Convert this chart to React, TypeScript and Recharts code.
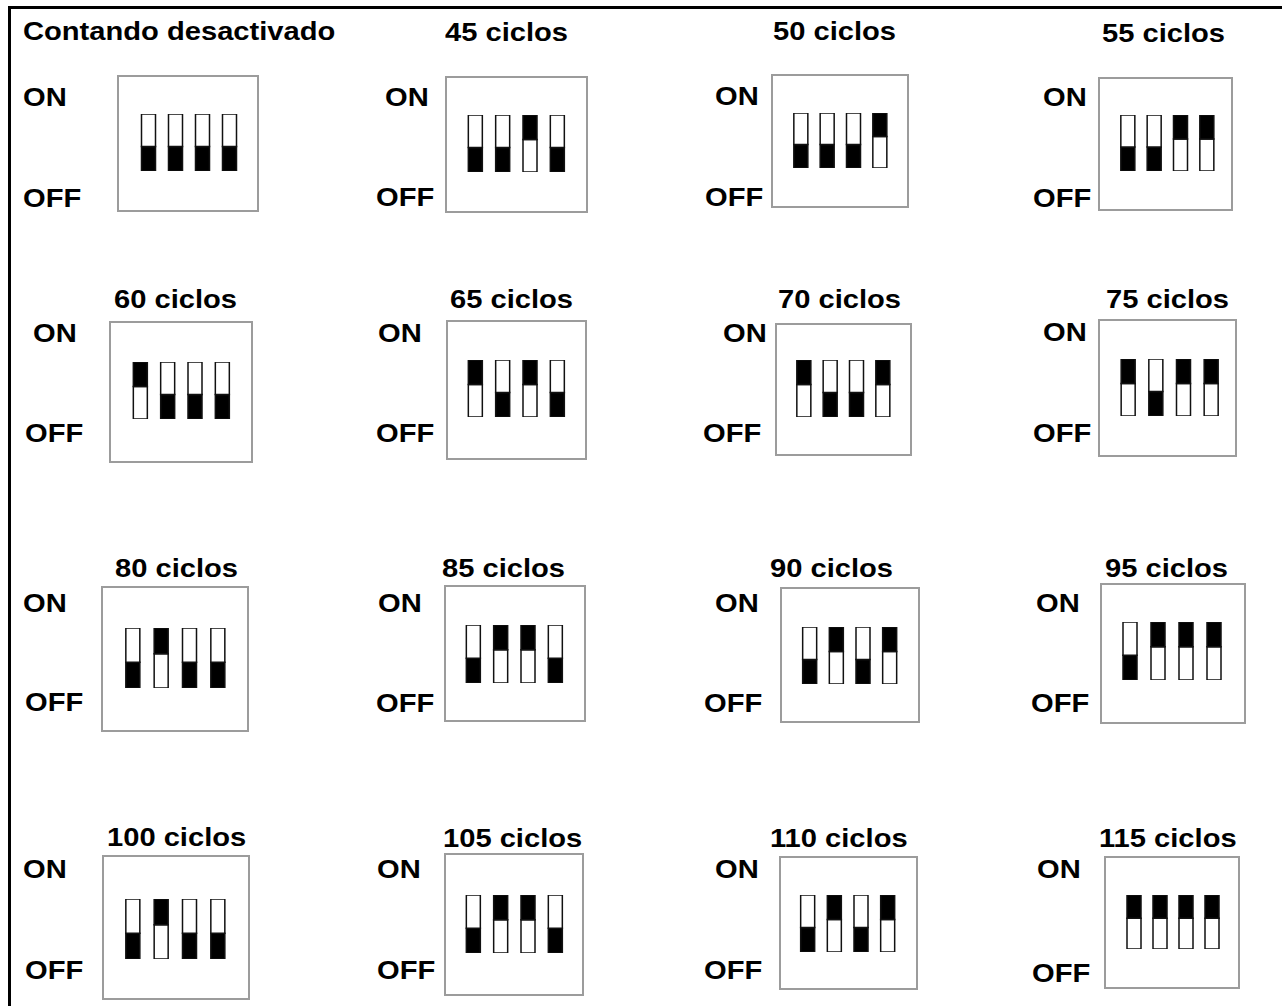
import { Bar, BarChart, Cell, XAxis, YAxis } from "recharts";

const TITLES = [
  "Contando desactivado",
  "45 ciclos",
  "50 ciclos",
  "55 ciclos",
  "60 ciclos",
  "65 ciclos",
  "70 ciclos",
  "75 ciclos",
  "80 ciclos",
  "85 ciclos",
  "90 ciclos",
  "95 ciclos",
  "100 ciclos",
  "105 ciclos",
  "110 ciclos",
  "115 ciclos",
];

const SWITCH_NAMES = ["1", "2", "3", "4"];

// 1 = lever up (ON), 0 = lever down (OFF), as drawn in the picture
const SWITCH_STATES = [
  [0, 0, 0, 0],
  [0, 0, 1, 0],
  [0, 0, 0, 1],
  [0, 0, 1, 1],
  [1, 0, 0, 0],
  [1, 0, 1, 0],
  [1, 0, 0, 1],
  [1, 0, 1, 1],
  [0, 1, 0, 0],
  [0, 1, 1, 0],
  [0, 1, 0, 1],
  [0, 1, 1, 1],
  [0, 1, 0, 0],
  [0, 1, 1, 0],
  [0, 1, 0, 1],
  [1, 1, 1, 1],
];

// slot length vs. lever length of one switch
const SLOT_LENGTH = 7;
const LEVER_LENGTH = 3;

// layout: box [x, y, w, h], slot area [x0, y0, x1, y1], text [left, capTop]
const BOXES = [
  [117, 75, 142, 137],
  [445, 76, 143, 137],
  [771, 74, 138, 134],
  [1098, 77, 135, 134],
  [109, 321, 144, 142],
  [446, 320, 141, 140],
  [775, 323, 137, 133],
  [1098, 319, 139, 138],
  [101, 586, 148, 146],
  [444, 585, 142, 137],
  [780, 587, 140, 136],
  [1100, 583, 146, 141],
  [102, 855, 148, 145],
  [444, 853, 140, 143],
  [779, 856, 139, 134],
  [1104, 856, 136, 133],
];

const SLOTS = [
  [141, 114, 236, 171],
  [468, 115, 564, 172],
  [794, 113, 887, 168],
  [1121, 115, 1214, 171],
  [133, 362, 229, 419],
  [468, 360, 564, 417],
  [797, 360, 890, 417],
  [1121, 359, 1218, 416],
  [126, 628, 225, 688],
  [466, 625, 562, 683],
  [803, 627, 897, 684],
  [1123, 622, 1221, 680],
  [126, 899, 225, 959],
  [466, 895, 562, 953],
  [801, 895, 895, 952],
  [1127, 895, 1219, 949],
];

const TITLE_AT = [
  [23, 21], [445, 22], [773, 21], [1102, 23],
  [114, 289], [450, 289], [778, 289], [1106, 289],
  [115, 558], [442, 558], [770, 558], [1105, 558],
  [107, 827], [443, 828], [770, 828], [1099, 828],
];

const ON_AT = [
  [23, 87], [385, 87], [715, 86], [1043, 87],
  [33, 323], [378, 323], [723, 323], [1043, 322],
  [23, 593], [378, 593], [715, 593], [1036, 593],
  [23, 859], [377, 859], [715, 859], [1037, 859],
];

const OFF_AT = [
  [23, 188], [376, 187], [705, 187], [1033, 188],
  [25, 423], [376, 423], [703, 423], [1033, 423],
  [25, 692], [376, 693], [704, 693], [1031, 693],
  [25, 960], [377, 960], [704, 960], [1032, 963],
];

const BAR_SIZE = 14;
const BORDER = 2;

function Text({ at, children }: { at: number[]; children: string }) {
  return (
    <div
      style={{
        position: "absolute",
        left: at[0],
        top: at[1] - 3,
        fontSize: 26,
        lineHeight: "26px",
        fontWeight: "bold",
        whiteSpace: "nowrap",
        transform: "scaleX(1.12)",
        transformOrigin: "0 0",
        color: "#000",
      }}
    >
      {children}
    </div>
  );
}

function DipSwitch({ states, box, slot }: { states: number[]; box: number[]; slot: number[] }) {
  const [bx, by, bw, bh] = box;
  const [x0, y0, x1, y1] = slot;
  const ix = bx + BORDER;
  const iy = by + BORDER;
  const iw = bw - 2 * BORDER;
  const ih = bh - 2 * BORDER;
  const pitch = (x1 - x0 - BAR_SIZE) / 3;
  const plotLeft = x0 + BAR_SIZE / 2 - pitch / 2;
  const plotRight = x1 - BAR_SIZE / 2 + pitch / 2;

  const data = SWITCH_NAMES.map((name, i) => ({
    name,
    on: states[i] === 1,
    low: states[i] ? SLOT_LENGTH - LEVER_LENGTH : LEVER_LENGTH,
    high: states[i] ? LEVER_LENGTH : SLOT_LENGTH - LEVER_LENGTH,
  }));

  return (
    <div
      style={{
        position: "absolute",
        left: bx,
        top: by,
        width: bw,
        height: bh,
        boxSizing: "border-box",
        border: `${BORDER}px solid #9c9c9c`,
        background: "#fff",
      }}
    >
      <BarChart
        width={iw}
        height={ih}
        data={data}
        barSize={BAR_SIZE}
        margin={{
          top: y0 - iy,
          bottom: iy + ih - y1,
          left: plotLeft - ix,
          right: ix + iw - plotRight,
        }}
      >
        <XAxis dataKey="name" hide />
        <YAxis hide type="number" domain={[0, SLOT_LENGTH]} allowDataOverflow />
        <Bar dataKey="low" stackId="s" stroke="#111" strokeWidth={1.5} isAnimationActive={false}>
          {data.map((d, i) => (
            <Cell key={i} fill={d.on ? "#fff" : "#000"} />
          ))}
        </Bar>
        <Bar dataKey="high" stackId="s" stroke="#111" strokeWidth={1.5} isAnimationActive={false}>
          {data.map((d, i) => (
            <Cell key={i} fill={d.on ? "#000" : "#fff"} />
          ))}
        </Bar>
      </BarChart>
    </div>
  );
}

export default function App() {
  return (
    <div
      style={{
        position: "absolute",
        left: 0,
        top: 0,
        width: 1282,
        height: 1006,
        overflow: "hidden",
        background: "#fff",
        fontFamily: '"Liberation Sans", Arial, sans-serif',
      }}
    >
      <div
        style={{
          position: "absolute",
          left: 8,
          top: 6,
          width: 1282,
          height: 1006,
          borderTop: "3px solid #000",
          borderLeft: "3px solid #000",
        }}
      />
      {TITLES.map((title, i) => (
        <div key={title}>
          <Text at={TITLE_AT[i]}>{title}</Text>
          <Text at={ON_AT[i]}>ON</Text>
          <Text at={OFF_AT[i]}>OFF</Text>
          <DipSwitch states={SWITCH_STATES[i]} box={BOXES[i]} slot={SLOTS[i]} />
        </div>
      ))}
    </div>
  );
}
